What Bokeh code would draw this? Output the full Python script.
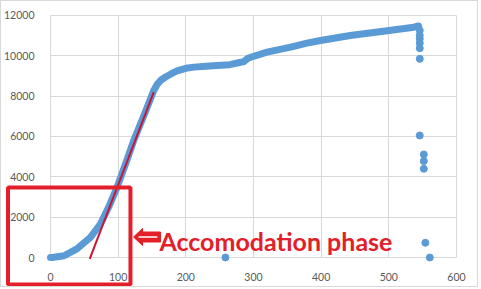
from bokeh.plotting import figure
from bokeh.models import (Range1d, FixedTicker, BoxAnnotation, Label, ColumnDataSource, Grid)
from bokeh.embed import file_html
from bokeh.resources import INLINE

# ---- data ----
curve_x = [0, 2.5, 20, 39, 59, 74, 86, 98.5, 111, 123, 140, 152.6, 158, 163, 170, 178, 187,
           200, 212, 230, 246, 265, 281, 285, 292, 296, 320, 355, 379, 399, 443, 492, 537, 544]
curve_y = [0, 0, 85, 430, 1000, 1670, 2500, 3490, 4650, 5800, 7200, 8280, 8600, 8790, 8950, 9100, 9250,
           9380, 9440, 9480, 9520, 9560, 9680, 9700, 9880, 9930, 10180, 10430, 10630, 10760,
           11010, 11220, 11420, 11480]
outlier_x = [545.7, 545.7, 545.7, 545.7, 545.7, 545.7, 545.7, 551.7, 551.7, 551.7, 554, 560.6, 258.5]
outlier_y = [11260, 11010, 10840, 10630, 10380, 9850, 6050, 5110, 4780, 4400, 730, 0, 0]
trend_x = [58, 152.6]
trend_y = [-65, 8200]
x_ticks = [0, 100, 200, 300, 400, 500, 600]
y_ticks = [0, 2000, 4000, 6000, 8000, 10000, 12000]

BLUE = "#5b9bd5"
RED = "#e3202a"
DARK_RED = "#c8163a"
GRID = "#d9d9d9"
LABEL = "#595959"

W, H = 478, 287
p = figure(width=W, height=H, output_backend="svg", toolbar_location=None,
           x_range=Range1d(-72.4, 634.0), y_range=Range1d(-1537, 12694),
           min_border=0)
p.styles = {"border": "1px solid #d9d9d9"}
p.outline_line_color = None
p.background_fill_color = "white"
p.border_fill_color = "white"

# axes drawn at the data origin (they take no side-panel space)
for ax, ticks in ((p.xaxis[0], x_ticks), (p.yaxis[0], y_ticks)):
    ax.ticker = FixedTicker(ticks=ticks)
    ax.fixed_location = 0
    ax.axis_line_color = None
    ax.major_tick_line_color = None
    ax.minor_tick_line_color = None
    ax.major_label_text_font = "Lato"
    ax.major_label_text_font_size = "10.5px"
    ax.major_label_text_color = LABEL
p.xaxis.major_label_standoff = 9
p.yaxis.major_label_standoff = 10

# grid limited to the data area
p.xgrid.visible = False
p.ygrid.visible = False
has_cross = "cross_bounds" in Grid.properties()
xg = Grid(dimension=0, ticker=FixedTicker(ticks=x_ticks), bounds=(0, 600),
          grid_line_color=GRID, grid_line_width=1)
yg = Grid(dimension=1, ticker=FixedTicker(ticks=y_ticks), bounds=(0, 12000),
          grid_line_color=GRID, grid_line_width=1)
if has_cross:
    xg.cross_bounds = (0, 12000)
    yg.cross_bounds = (0, 600)
    p.add_layout(xg)
    p.add_layout(yg)
else:
    p.segment(x_ticks, [0] * len(x_ticks), x_ticks, [12000] * len(x_ticks), line_color=GRID, line_width=1)
    p.segment([0] * len(y_ticks), y_ticks, [600] * len(y_ticks), y_ticks, line_color=GRID, line_width=1)

src = ColumnDataSource(dict(x=curve_x, y=curve_y))
p.line("x", "y", source=src, line_color=BLUE, line_width=7, line_join="round", line_cap="round")
p.scatter(outlier_x, outlier_y, size=7, fill_color=BLUE, line_color=BLUE)
p.line(trend_x, trend_y, line_color=DARK_RED, line_width=2)

# arrow (block arrow pointing left)
p.patch([122.7, 136, 136, 162.6, 162.6, 136, 136], [1016, 1438, 1264, 1264, 769, 769, 595],
        fill_color=RED, line_color=RED, line_width=1)
p.line([130, 158], [1016, 1016], line_color="white", line_width=1.5)

p.add_layout(Label(x=161, y=843, text="Accomodation phase", text_font="Lato",
                   text_font_style="bold", text_font_size="25px", text_color=RED,
                   text_baseline="alphabetic"))

# highlight box around the accommodation phase
box = BoxAnnotation(left=-62.8, right=118.2, top=3471, bottom=-1339,
                    fill_color=None, fill_alpha=0, line_color=RED, line_alpha=1, line_width=4)
p.add_layout(box)

open("out.html", "w").write(file_html(p, INLINE))
